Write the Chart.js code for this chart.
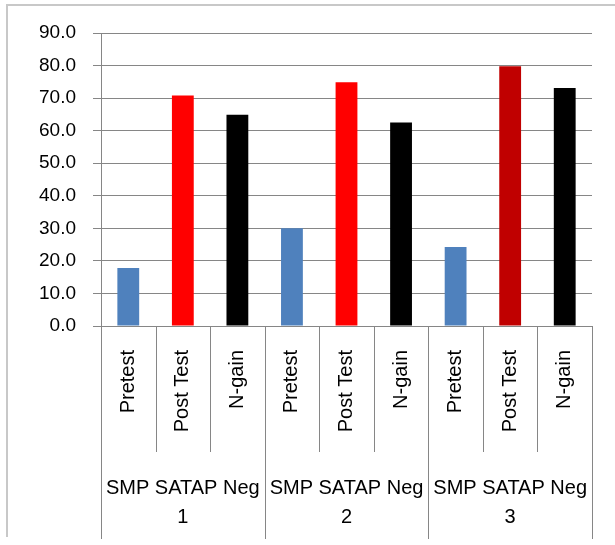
<!DOCTYPE html>
<html>
<head>
<meta charset="utf-8">
<script src="https://cdn.jsdelivr.net/npm/chart.js@4/dist/chart.umd.min.js"></script>
<style>
  html, body { margin: 0; padding: 0; background: #fff; }
  #c { display: block; }
</style>
</head>
<body>
<canvas id="c" width="615" height="545"></canvas>
<script>
// ---- data ----
const categories = ['Pretest', 'Post Test', 'N-gain', 'Pretest', 'Post Test', 'N-gain', 'Pretest', 'Post Test', 'N-gain'];
const groups = [['SMP SATAP Neg', '1'], ['SMP SATAP Neg', '2'], ['SMP SATAP Neg', '3']];
const values = [17.8, 70.8, 64.9, 30.0, 74.9, 62.5, 24.3, 79.8, 73.1];
const barColors = ['#4F81BD', '#FF0000', '#000000', '#4F81BD', '#FF0000', '#000000', '#4F81BD', '#C00000', '#000000'];
const yTicks = [0, 10, 20, 30, 40, 50, 60, 70, 80, 90];

const FONT = "'Liberation Sans', Arial, sans-serif";
const GRID = '#868686';

// outer chart frame (only its left and top edges fall inside the picture)
const frame = {
  id: 'frame',
  beforeDraw(chart) {
    const ctx = chart.ctx;
    ctx.save();
    ctx.fillStyle = '#c8c8c8';
    ctx.fillRect(6, 4, 2, 533);
    ctx.fillRect(6, 4, chart.width - 6, 2);
    ctx.restore();
  }
};

const separators = {
  id: 'separators',
  afterDraw(chart) {
    const x = chart.scales.x;
    const x2 = chart.scales.x2;
    const ctx = chart.ctx;
    const top = chart.chartArea.bottom;
    const n = categories.length;
    const per = n / groups.length;
    ctx.save();
    ctx.strokeStyle = GRID;
    ctx.lineWidth = 1;
    for (let i = 0; i <= n; i++) {
      let px;
      if (i === 0) px = x.left;
      else if (i === n) px = x.right;
      else px = (x.getPixelForTick(i - 1) + x.getPixelForTick(i)) / 2;
      px = Math.round(px) + 0.5;
      const isGroup = i % per === 0;
      const bottom = isGroup ? x2.bottom - 6 : x.bottom - 19;
      ctx.beginPath();
      ctx.moveTo(px, top);
      ctx.lineTo(px, bottom);
      ctx.stroke();
    }
    ctx.restore();
  }
};

new Chart(document.getElementById('c'), {
  type: 'bar',
  data: {
    labels: categories,
    datasets: [{
      data: values,
      backgroundColor: barColors,
      borderWidth: 0,
      barPercentage: 0.4,
      categoryPercentage: 1.0,
      xAxisID: 'x',
      yAxisID: 'y'
    }]
  },
  options: {
    responsive: false,
    animation: false,
    devicePixelRatio: 1,
    layout: { padding: { left: 0, top: 33, right: 23, bottom: 0 } },
    plugins: { legend: { display: false }, tooltip: { enabled: false } },
    scales: {
      y: {
        min: 0, max: 90,
        afterBuildTicks(scale) { scale.ticks = yTicks.map(v => ({ value: v })); },
        afterFit(scale) { scale.width = 101; },
        ticks: {
          padding: 17,
          color: '#000',
          font: { family: FONT, size: 19 },
          callback: v => Number(v).toFixed(1)
        },
        grid: { color: GRID, lineWidth: 1, tickLength: 8 },
        border: { color: GRID, width: 1 }
      },
      x: {
        type: 'category',
        position: 'bottom',
        offset: true,
        afterFit(scale) { scale.height = 145; },
        grid: { display: false, drawTicks: false },
        border: { display: true, color: GRID, width: 1 },
        ticks: {
          autoSkip: false,
          minRotation: 90, maxRotation: 90,
          padding: 24,
          color: '#000',
          font: { family: FONT, size: 20 }
        }
      },
      x2: {
        type: 'category',
        position: 'bottom',
        labels: groups,
        offset: true,
        afterFit(scale) { scale.height = 74; },
        grid: { display: false, drawTicks: false },
        border: { display: false },
        ticks: {
          autoSkip: false,
          minRotation: 0, maxRotation: 0,
          padding: 3,
          color: '#000',
          font: { family: FONT, size: 20, lineHeight: 1.45 }
        }
      }
    }
  },
  plugins: [frame, separators]
});
</script>
</body>
</html>
